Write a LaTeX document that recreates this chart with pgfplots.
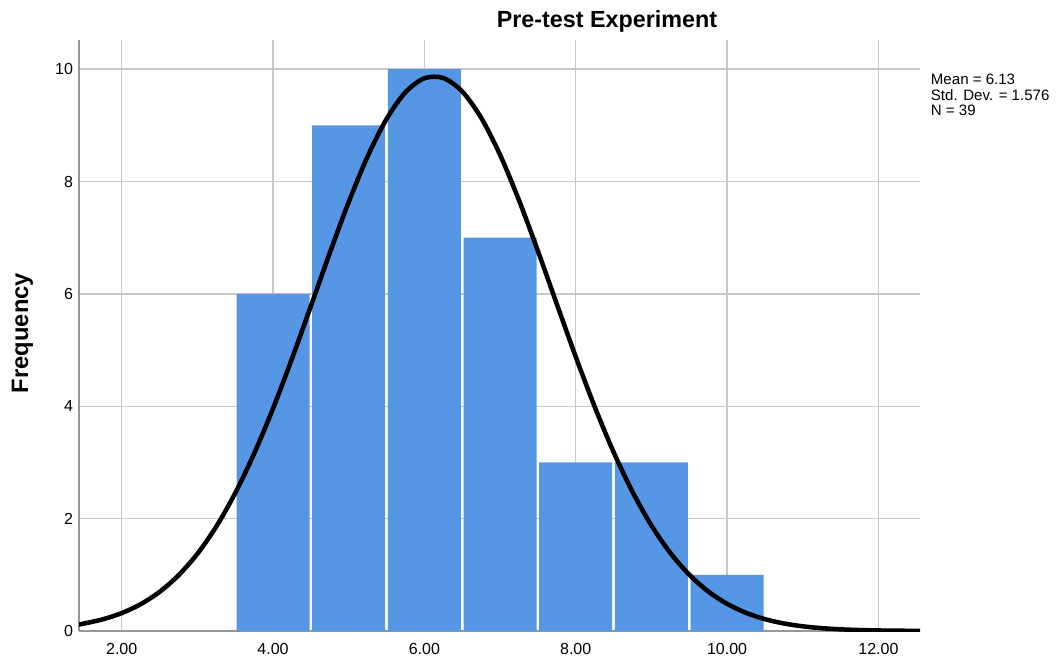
\documentclass[border=0pt]{standalone}
\usepackage{pgfplots}
\pgfplotsset{compat=1.18}
\usepackage{fontspec}
\setmainfont{Liberation Sans}
\definecolor{barblue}{HTML}{5596E5}
\definecolor{gridgray}{HTML}{C8C8C8}
\definecolor{axisgray}{HTML}{969696}
\begin{document}
\begin{tikzpicture}
\useasboundingbox (0,0) rectangle (795pt,495.75pt);
\begin{axis}[
  scale only axis,
  width=630.75pt, height=443.25pt,
  at={(59.25pt,22.5pt)}, anchor=south west,
  xmin=1.436, xmax=12.55, ymin=0, ymax=10.52,
  axis x line*=bottom, axis y line*=left,
  axis line style={-, draw=axisgray, line width=1.1pt},
  every outer x axis line/.append style={-},
  every outer y axis line/.append style={-},
  xtick={2,4,6,8,10,12},
  xticklabels={2.00,4.00,6.00,8.00,10.00,12.00},
  ytick={0,2,4,6,8,10},
  major tick length=0pt,
  grid=major,
  major grid style={draw=gridgray, line width=1.1pt},
  tick label style={font=\fontsize{12}{14}\selectfont},
  /pgf/number format/assume math mode=true,
  xticklabel style={yshift=-6pt},
  yticklabel style={xshift=-1pt},
]
\addplot[ybar, bar width=0.965, fill=barblue, draw=none] coordinates {
  (4,6) (5,9) (6,10) (7,7) (8,3) (9,3) (10,1)
};
\addplot[black, line width=3.4pt, smooth, line cap=round] coordinates {
  (1.436,0.1169) (1.5,0.1319) (1.75,0.2077) (2.0,0.3185) (2.25,0.4768)
  (2.5,0.6955) (2.75,0.9899) (3.0,1.3736) (3.25,1.8588) (3.5,2.4531)
  (3.75,3.1563) (4.0,3.9606) (4.25,4.8464) (4.5,5.7827) (4.75,6.7287)
  (5.0,7.6344) (5.25,8.4472) (5.5,9.1142) (5.75,9.5895) (6.0,9.8388)
  (6.25,9.8438) (6.5,9.6040) (6.75,9.1372) (7.0,8.4771)
  (7.25,7.6691) (7.5,6.7661) (7.75,5.8207) (8.0,4.8832) (8.25,3.9947)
  (8.5,3.1869) (8.75,2.4790) (9.0,1.8806) (9.25,1.3911) (9.5,1.0036)
  (9.75,0.7057) (10.0,0.4843) (10.25,0.3238) (10.5,0.2112) (10.75,0.1344)
  (11.0,0.0834) (11.25,0.0504) (11.5,0.0297) (11.75,0.0171) (12.0,0.0096)
  (12.25,0.0052) (12.55,0.0025)
};
\end{axis}
\node[anchor=base, font=\bfseries\fontsize{17.5}{20}\selectfont] at (455.25pt,474.75pt) {Pre-test Experiment};
\node[rotate=90, font=\bfseries\fontsize{17.8}{20}\selectfont] at (16.9pt,246pt) {Frequency};
\node[anchor=base west, inner sep=0pt, font=\fontsize{11.3}{12}\selectfont] at (698pt,432pt) {Mean = 6.13};
\node[anchor=base west, inner sep=0pt, font=\fontsize{11.3}{12}\selectfont] at (698pt,420.4pt) {Std. Dev. = 1.576};
\node[anchor=base west, inner sep=0pt, font=\fontsize{11.3}{12}\selectfont] at (698pt,408.8pt) {N = 39};
\end{tikzpicture}
\end{document}
